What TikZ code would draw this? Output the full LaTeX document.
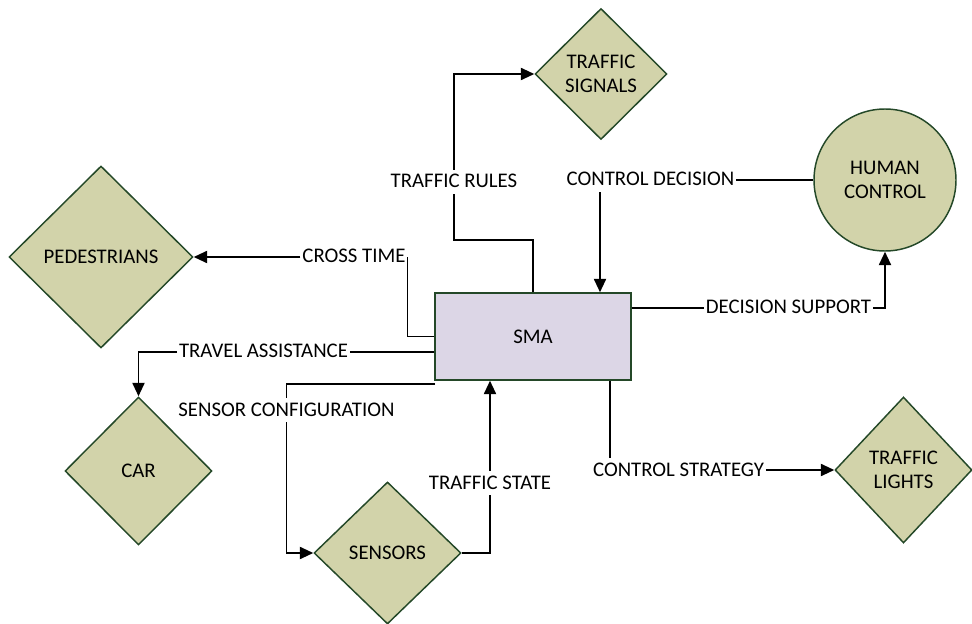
\documentclass[tikz,border=0pt]{standalone}
\usepackage{fontspec}
\setmainfont{Carlito}
\usetikzlibrary{shapes.geometric,arrows.meta}

\tikzset{every picture/.style={line width=1.4pt}}
\definecolor{agentfill}{RGB}{210,211,170}
\definecolor{agentdraw}{RGB}{36,72,40}
\definecolor{smafill}{RGB}{220,214,230}
\tikzset{
  agent/.style={diamond, draw=agentdraw, fill=agentfill, line width=1.1pt, inner sep=1pt, align=center},
  human/.style={circle, draw=agentdraw, fill=agentfill, line width=1.1pt, align=center},
  smabox/.style={rectangle, draw=agentdraw, fill=smafill, line width=1.1pt},
  flowlabel/.style={inner xsep=0.8pt, inner ysep=2pt, text height=11pt, text depth=2pt},
  flow/.style={-{Triangle[length=10pt,width=9pt]}}
}

\begin{document}
\begin{tikzpicture}[x=0.75pt,y=0.75pt,yscale=-1,xscale=1,font=\fontsize{15.6}{18}\selectfont]
\useasboundingbox (0,0) rectangle (972,624);

%Shape: Rectangle [sma]
\node[smabox, minimum width=147pt, minimum height=65.25pt] (sma) at (533,336.5) {SMA};
%Shape: Diamonds
\node[agent, minimum width=99pt, minimum height=98.25pt] (signals) at (601,74) {TRAFFIC\\SIGNALS};
\node[agent, minimum width=138pt, minimum height=136.5pt] (ped) at (101,257) {PEDESTRIANS};
\node[agent, minimum width=110.25pt, minimum height=111pt] (car) at (138.5,471) {CAR};
\node[agent, minimum width=110.25pt, minimum height=106.5pt] (sensors) at (387.5,553) {SENSORS};
\node[agent, minimum width=102.75pt, minimum height=109.5pt] (lights) at (903.5,470) {TRAFFIC\\LIGHTS};
%Shape: Circle [human]
\node[human, minimum size=106.5pt] (hc) at (885,180) {HUMAN\\CONTROL};

%Text labels on the flows
\node[flowlabel] (rules) at (454,182) {TRAFFIC RULES};
\node[flowlabel] (decision) at (650.5,180) {CONTROL DECISION};
\node[flowlabel] (support) at (788.5,308) {DECISION SUPPORT};
\node[flowlabel] (cross) at (354,257) {CROSS TIME};
\node[flowlabel] (travel) at (263.5,352) {TRAVEL ASSISTANCE};
\node[flowlabel] (config) at (286.5,410) {SENSOR CONFIGURATION};
\node[flowlabel] (state) at (490,483) {TRAFFIC STATE};
\node[flowlabel] (strategy) at (678.5,470) {CONTROL STRATEGY};

%Bend points
\coordinate (rulesbend) at (454,240);
\coordinate (decx) at (600,0);
\coordinate (stratx) at (610,0);
\coordinate (configstart) at (435,384);

%Straight Lines: traffic rules
\draw (sma.north) |- (rulesbend) -- (rules.south);
\draw[flow] (rules.north) |- (signals.west);
%Straight Lines: control decision
\draw (hc.west) -- (decision.east);
\draw[flow] (decx |- decision.south) -- (decx |- sma.north);
%Straight Lines: decision support
\draw (sma.east |- support.west) -- (support.west);
\draw[flow] (support.east) -| (hc.south);
%Straight Lines: cross time
\draw (sma.west) -| (cross.east);
\draw[flow] (cross.west) -- (ped.east);
%Straight Lines: travel assistance
\draw (sma.west |- travel.east) -- (travel.east);
\draw[flow] (travel.west) -| (car.north);
%Straight Lines: sensor configuration
\draw (configstart) -| (config.north);
\draw[flow] (config.south) |- (sensors.west);
%Straight Lines: traffic state
\draw (sensors.east) -| (state.south);
\draw[flow] (state.north) -- (state.north |- sma.south);
%Straight Lines: control strategy
\draw (stratx |- sma.south) -- (stratx |- strategy.north);
\draw[flow] (strategy.east) -- (lights.west);

\end{tikzpicture}
\end{document}
